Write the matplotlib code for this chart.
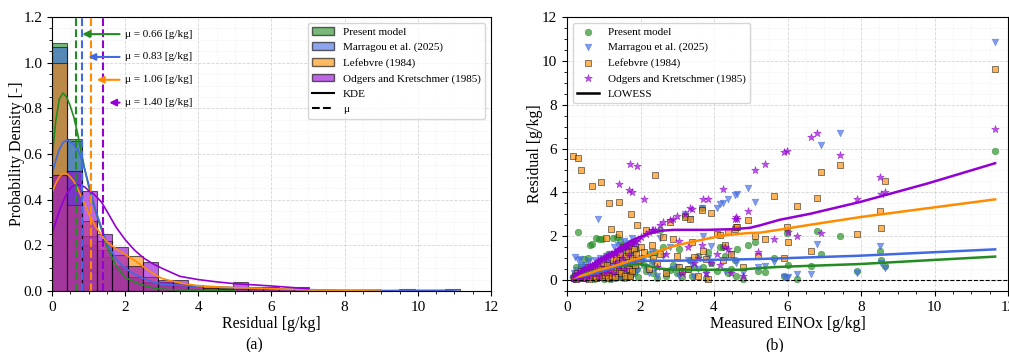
import numpy as np
import matplotlib
matplotlib.use("Agg")
import matplotlib.pyplot as plt
from matplotlib.ticker import AutoMinorLocator
from matplotlib.patches import Patch
from matplotlib.lines import Line2D

plt.rcParams['font.family'] = ['Liberation Serif', 'DejaVu Serif']
plt.rcParams['mathtext.fontset'] = 'stix'

models = ["Present model", "Marragou et al. (2025)", "Lefebvre (1984)", "Odgers and Kretschmer (1985)"]
colors = ["forestgreen", "royalblue", "darkorange", "darkviolet"]
markers = ["o", "v", "s", "*"]
means = [0.66, 0.83, 1.06, 1.40]

# ---- (a) histogram of residuals (density per bin, bin width 0.413 from 0) ----
bin_width = 0.413
hist_present = [1.088, 0.664, 0.20, 0.15, 0.10, 0.06, 0.035, 0.02, 0.02, 0.01, 0.01, 0.009, 0.0, 0.009, 0.009]
hist_marragou = [1.069, 0.657, 0.24, 0.18, 0.11, 0.06, 0.04, 0.035, 0.03, 0.02, 0.015, 0.01, 0.009, 0.009,
                 0.009, 0.009, 0.009, 0, 0, 0, 0, 0, 0, 0, 0, 0, 0.009]
hist_lefebvre = [1.00, 0.378, 0.305, 0.217, 0.159, 0.155, 0.06, 0.04, 0.035, 0.025, 0.02, 0.015, 0.009, 0.018,
                 0.009, 0.009, 0, 0, 0, 0, 0, 0, 0, 0.009]
hist_odgers = [0.51, 0.524, 0.44, 0.251, 0.193, 0.11, 0.125, 0.05, 0.046, 0.02, 0.015, 0.01, 0.038, 0.015,
               0.018, 0.009, 0.018]
hists = [hist_present, hist_marragou, hist_lefebvre, hist_odgers]

# KDE curves
kde_x = [0, 0.1, 0.2, 0.3, 0.4, 0.5, 0.6, 0.7, 0.8, 0.9, 1.0, 1.1, 1.2, 1.35, 1.5, 1.75, 2.0, 2.25, 2.5,
         2.75, 3.0, 3.5, 4.0, 4.5, 5.0, 6.0, 7.0, 8.0, 9.0, 10.0, 11.0]
kde_present = [0.58, 0.74, 0.84, 0.867, 0.85, 0.81, 0.76, 0.69, 0.61, 0.53, 0.46, 0.40, 0.345, 0.27, 0.195,
               0.11, 0.06, 0.04, 0.025, 0.014, 0.008, 0.004, 0.003, 0.002, 0.002]
kde_marragou = [0.51, 0.57, 0.62, 0.65, 0.66, 0.655, 0.64, 0.62, 0.58, 0.53, 0.47, 0.41, 0.35, 0.28, 0.21,
                0.14, 0.10, 0.075, 0.055, 0.04, 0.03, 0.025, 0.02, 0.018, 0.015, 0.01, 0.006, 0.003, 0.002,
                0.003, 0.003]
kde_lefebvre = [0.43, 0.47, 0.50, 0.515, 0.515, 0.50, 0.48, 0.45, 0.415, 0.38, 0.34, 0.31, 0.28, 0.245, 0.215,
                0.185, 0.16, 0.135, 0.106, 0.078, 0.055, 0.035, 0.023, 0.018, 0.015, 0.01, 0.005, 0.003, 0.005]
kde_odgers = [0.25, 0.30, 0.35, 0.39, 0.425, 0.45, 0.462, 0.466, 0.462, 0.455, 0.44, 0.43, 0.415, 0.39, 0.35,
              0.28, 0.225, 0.18, 0.145, 0.12, 0.10, 0.064, 0.05, 0.04, 0.032, 0.022, 0.01]
kdes = [kde_present, kde_marragou, kde_lefebvre, kde_odgers]

# ---- (b) residual vs measured EINOx ----
measured = [0.17, 0.20, 0.22, 0.25, 0.28, 0.30, 0.32, 0.35, 0.38, 0.39, 0.42, 0.45,
            0.48, 0.50, 0.52, 0.55, 0.58, 0.60, 0.62, 0.65, 0.68, 0.69, 0.72, 0.75,
            0.78, 0.80, 0.82, 0.84, 0.88, 0.90, 0.93, 0.95, 0.98, 1.00, 1.02, 1.05,
            1.08, 1.10, 1.12, 1.15, 1.18, 1.20, 1.22, 1.25, 1.28, 1.30, 1.32, 1.35,
            1.38, 1.40, 1.41, 1.42, 1.45, 1.48, 1.50, 1.52, 1.55, 1.58, 1.60, 1.62,
            1.65, 1.68, 1.69, 1.71, 1.74, 1.76, 1.78, 1.82, 1.85, 1.88, 1.89, 1.92,
            2.02, 2.10, 2.16, 2.22, 2.30, 2.34, 2.39, 2.45, 2.53, 2.62, 2.70, 2.80,
            2.89, 2.98, 3.05, 3.12, 3.20, 3.28, 3.34, 3.39, 3.45, 3.55, 3.66, 3.70,
            3.79, 3.84, 3.93, 4.07, 4.16, 4.25, 4.29, 4.38, 4.47, 4.56, 4.61, 4.63,
            4.80, 4.93, 5.11, 5.20,
            5.40, 5.64, 5.90, 5.98, 6.02, 6.25, 6.63, 6.81, 6.92, 7.44, 7.90, 8.53,
            8.55, 8.64, 11.65]
res_present = [0.15, 0.05, 0.3, 0.6, 0.1, 2.2, 0.25, 0.4, 0.08, 0.7, 0.2, 0.95,
               0.3, 0.1, 0.5, 0.2, 1.0, 0.35, 1.6, 0.15, 0.45, 1.65, 0.05, 0.6,
               0.25, 1.9, 0.1, 0.7, 1.85, 0.4, 0.2, 1.85, 0.55, 0.05, 0.9, 0.3,
               0.6, 0.15, 1.2, 0.4, 0.05, 0.8, 0.3, 1.9, 0.5, 0.1, 1.1, 1.95,
               0.35, 0.7, 0.15, 1.0, 1.8, 0.2, 0.5, 0.9, 1.6, 0.1, 0.65, 1.3,
               0.4, 1.5, 0.8, 0.2, 1.1, 0.6, 1.7, 0.3, 0.9, 1.4, 0.5, 0.15,
               0.9, 0.7, 0.4, 1.2, 0.88, 0.3, 1.3, 0.1, 2.26, 1.5, 0.2, 0.45,
               0.7, 0.3, 1.4, 0.15, 2.9, 0.5, 0.9, 0.2, 0.6, 1.1, 3.3, 0.58,
               0.1, 1.3, 0.8, 0.4, 1.52, 1.5, 1.11, 0.3, 0.5, 0.9, 0.2, 1.42,
               0.05, 1.6, 1.72, 0.4,
               0.35, 1.0, 0.18, 2.15, 0.69, 0.07, 0.65, 2.23, 1.19, 2.0, 0.43, 1.34,
               0.92, 0.62, 5.89]
res_marragou = [0.1, 0.3, 1.05, 0.2, 0.45, 0.9, 0.1, 0.95, 0.6, 0.15, 0.35, 0.5,
                0.2, 0.7, 0.05, 0.4, 0.3, 0.85, 0.1, 0.5, 0.25, 0.6, 0.15, 0.9,
                0.5, 0.3, 0.75, 2.79, 0.2, 1.0, 0.45, 0.1, 0.65, 0.35, 0.15, 1.1,
                0.25, 0.8, 0.4, 0.1, 1.2, 0.55, 0.05, 0.7, 1.5, 0.3, 0.9, 0.2,
                1.6, 0.2, 0.9, 0.4, 0.6, 1.3, 0.1, 0.8, 1.8, 0.5, 1.0, 0.3,
                1.1, 0.6, 1.7, 0.3, 0.9, 1.9, 0.2, 1.2, 0.7, 1.5, 0.4, 1.0,
                0.9, 1.0, 0.6, 0.3, 1.3, 0.8, 0.5, 0.2, 1.9, 1.1, 0.35, 1.5,
                0.5, 0.6, 0.2, 0.4, 3.0, 0.9, 2.8, 0.7, 0.15, 0.5, 3.3, 2.0,
                0.3, 1.0, 1.57, 3.3, 3.48, 3.5, 0.4, 3.68, 1.19, 3.86, 0.8, 3.94,
                0.3, 4.2, 3.56, 0.58,
                0.62, 0.81, 0.12, 0.1, 0.15, 0.26, 0.29, 1.65, 6.15, 6.73, 0.3, 1.57,
                0.8, 0.55, 10.88]
res_lefebvre = [5.66, 0.1, 0.2, 0.05, 0.3, 5.56, 0.15, 0.25, 0.4, 5.0, 0.1, 0.35,
                0.2, 0.45, 0.1, 0.3, 0.6, 0.05, 0.25, 0.5, 0.15, 4.29, 0.35, 0.2,
                0.45, 0.1, 0.3, 0.6, 0.2, 0.5, 4.46, 0.15, 0.8, 0.35, 0.25, 1.9,
                0.3, 0.7, 0.1, 3.5, 0.5, 2.34, 0.2, 0.9, 0.4, 0.15, 1.0, 0.6,
                0.8, 2.1, 3.56, 0.4, 1.2, 0.3, 0.9, 1.5, 0.6, 0.2, 1.1, 0.7,
                1.3, 0.5, 1.6, 0.2, 3.03, 1.0, 0.4, 1.4, 0.7, 1.2, 2.5, 0.9,
                1.5, 1.3, 2.26, 0.5, 1.6, 1.0, 4.78, 0.8, 1.2, 1.96, 0.3, 2.65,
                1.88, 1.11, 0.6, 0.4, 2.87, 0.5, 2.8, 1.73, 1.03, 0.2, 3.18, 1.34,
                0.96, 0.05, 3.05, 2.1, 2.07, 0.9, 1.6, 2.2, 1.2, 2.35, 2.41, 2.41,
                0.6, 2.74, 2.03, 1.1,
                1.88, 3.83, 1.0, 2.41, 1.72, 3.37, 1.34, 3.74, 4.91, 5.25, 2.12, 3.13,
                2.36, 4.53, 9.65]
res_odgers = [0.1, 0.15, 0.2, 0.05, 0.25, 0.3, 0.2, 0.3, 0.35, 0.1, 0.4, 0.45,
              0.5, 0.45, 0.1, 0.55, 0.6, 0.2, 0.65, 0.6, 0.3, 0.7, 0.7, 0.75,
              0.3, 0.8, 0.75, 0.85, 0.2, 0.9, 0.95, 0.5, 0.95, 1.0, 0.35, 1.05,
              1.05, 0.4, 1.1, 1.15, 0.6, 1.2, 1.2, 0.3, 1.25, 1.3, 0.8, 1.3,
              1.35, 0.6, 1.4, 4.4, 1.4, 1.45, 1.0, 1.5, 1.5, 0.5, 1.55, 1.6,
              1.6, 1.2, 4.09, 5.31, 1.7, 1.7, 4.03, 1.75, 1.8, 1.8, 5.2, 1.85,
              1.95, 3.68, 2.1, 2.2, 2.26, 2.26, 2.3, 0.6, 2.5, 2.64, 1.2, 2.72,
              2.8, 2.94, 1.8, 0.3, 3.02, 1.5, 3.3, 3.25, 0.8, 1.0, 1.6, 3.68,
              0.3, 3.71, 0.8, 1.2, 0.7, 4.17, 1.5, 1.4, 0.3, 2.8, 2.86, 2.79,
              0.2, 3.17, 5.04, 1.3,
              5.28, 1.85, 5.85, 5.9, 2.2, 2.03, 6.52, 6.69, 2.15, 5.69, 3.68, 4.7,
              3.94, 4.01, 6.87]
residuals = [res_present, res_marragou, res_lefebvre, res_odgers]

# LOWESS trends
lowess_present_x = [0.17, 0.5, 0.85, 1.2, 1.48, 1.75, 1.95, 2.2, 2.5, 2.8, 3.3, 3.93, 4.7, 5.25, 5.79, 7.97, 11.65]
lowess_present_y = [0.12, 0.3, 0.46, 0.57, 0.65, 0.70, 0.72, 0.65, 0.53, 0.48, 0.46, 0.47, 0.47, 0.55, 0.6, 0.73, 1.07]
lowess_marragou_x = [0.17, 0.5, 0.85, 1.2, 1.48, 1.75, 2.0, 2.21, 2.66, 3.3, 3.93, 4.6, 5.25, 7.97, 11.65]
lowess_marragou_y = [0.1, 0.2, 0.35, 0.52, 0.7, 0.81, 0.88, 0.88, 0.88, 0.89, 0.92, 0.94, 0.96, 1.11, 1.4]
lowess_lefebvre_x = [0.17, 0.5, 0.85, 1.2, 1.5, 1.75, 2.0, 2.25, 2.53, 2.9, 3.34, 3.8, 4.25, 4.9, 5.25, 5.79,
                     6.61, 7.97, 11.65]
lowess_lefebvre_y = [0.1, 0.25, 0.45, 0.6, 0.75, 0.9, 1.02, 1.15, 1.35, 1.55, 1.72, 1.88, 2.03, 2.14, 2.16, 2.3,
                     2.52, 2.87, 3.68]
lowess_odgers_x = [0.17, 0.5, 0.85, 1.3, 1.75, 2.0, 2.25, 2.55, 2.9, 3.8, 4.5, 4.97, 5.24, 5.79, 6.61, 7.97,
                   9.8, 11.65]
lowess_odgers_y = [0.12, 0.45, 0.88, 1.27, 1.8, 1.97, 2.13, 2.25, 2.29, 2.29, 2.32, 2.38, 2.49, 2.75, 3.02, 3.56,
                   4.4, 5.33]
lowess_x = [lowess_present_x, lowess_marragou_x, lowess_lefebvre_x, lowess_odgers_x]
lowess_y = [lowess_present_y, lowess_marragou_y, lowess_lefebvre_y, lowess_odgers_y]

fig = plt.figure(figsize=(10.09, 3.52), dpi=100)
ax1 = fig.add_axes([0.0515, 0.1733, 0.4351, 0.7784])
ax2 = fig.add_axes([0.562, 0.1733, 0.437, 0.7784])

# histogram panel
for h, c in zip(hists, colors):
    edges = np.arange(len(h)) * bin_width
    ax1.bar(edges, h, width=bin_width, align='edge', color=c, alpha=0.6,
            edgecolor='black', linewidth=0.8)
for k, c in zip(kdes, colors):
    ax1.plot(kde_x[:len(k)], k, color=c, lw=1.2)
for i, (m, c) in enumerate(zip(means, colors)):
    ax1.axvline(m, color=c, ls='--', lw=1.5)
    ty = 1.125 - 0.1 * i
    ax1.annotate(f"μ = {m:.2f} [g/kg]", xy=(m + 0.09, ty), xytext=(2.0, ty),
                 ha='left', va='center', fontsize=8,
                 arrowprops=dict(arrowstyle='-|>', color=c, lw=1.5, mutation_scale=10))

ax1.set_xlim(0, 12)
ax1.set_ylim(0, 1.2)
ax1.set_xlabel("Residual [g/kg]", fontsize=11.5, labelpad=2)
ax1.set_ylabel("Probability Density [-]", fontsize=11.5, labelpad=-1)

handles = [Patch(facecolor=c, edgecolor='black', alpha=0.6, label=n) for c, n in zip(colors, models)]
handles += [Line2D([], [], color='black', lw=1.5, label='KDE'),
            Line2D([], [], color='black', lw=1.5, ls='--', label='μ')]
ax1.legend(handles=handles, loc='upper right', fontsize=8, framealpha=0.8)

# scatter panel
for r, c, mk, n in zip(residuals, colors, markers, models):
    edge = 'black' if mk == 's' else c
    size = 32 if mk == '*' else 22
    ax2.scatter(measured, r, color=c, marker=mk, s=size, alpha=0.65,
                edgecolors=edge, linewidths=0.5, label=n)
for lx, ly, c in zip(lowess_x, lowess_y, colors):
    ax2.plot(lx, ly, color=c, lw=1.8)
ax2.axhline(0, color='black', ls='--', lw=0.8)

ax2.set_xlim(0, 12)
ax2.set_ylim(-0.5, 12)
ax2.set_xlabel("Measured EINOx [g/kg]", fontsize=11.5, labelpad=2)
ax2.set_ylabel("Residual [g/kg]", fontsize=11.5, labelpad=-1)
h2, l2 = ax2.get_legend_handles_labels()
h2.append(Line2D([], [], color='black', lw=1.8))
l2.append('LOWESS')
ax2.legend(h2, l2, loc='upper left', fontsize=8, framealpha=0.8)

for ax in (ax1, ax2):
    ax.xaxis.set_minor_locator(AutoMinorLocator())
    ax.yaxis.set_minor_locator(AutoMinorLocator())
    ax.grid(which='major', ls='--', lw=0.6, color='0.8', alpha=0.8)
    ax.grid(which='minor', ls=':', lw=0.5, color='0.85', alpha=0.6)
    ax.set_axisbelow(True)
    ax.tick_params(labelsize=11)

fig.text(0.252, 0.02, "(a)", ha='center', va='center', fontsize=11.5)
fig.text(0.768, 0.02, "(b)", ha='center', va='center', fontsize=11.5)

fig.savefig("out.png", dpi=100)
